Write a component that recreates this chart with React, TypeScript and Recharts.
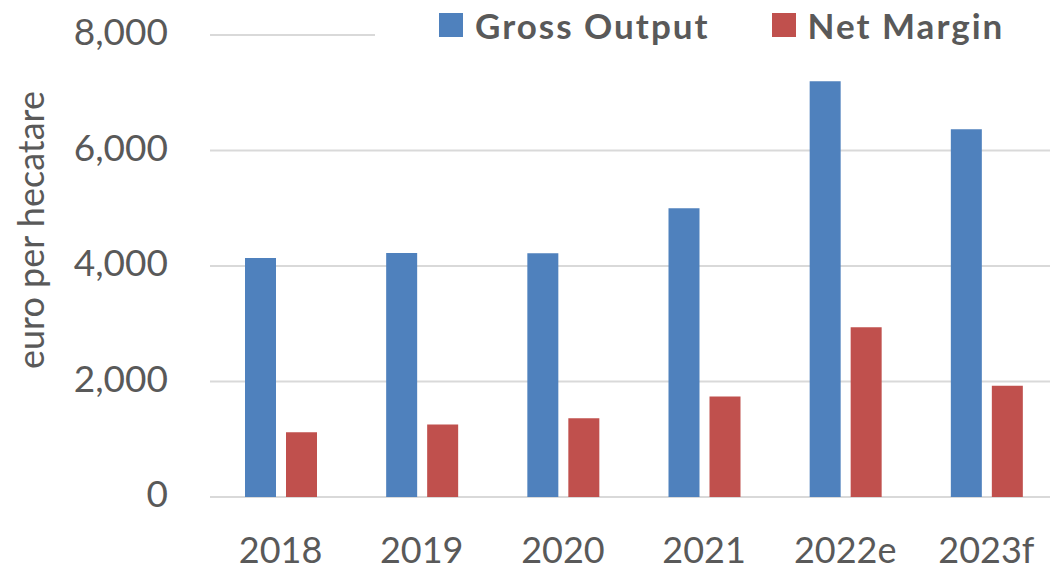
import { BarChart, Bar, XAxis, YAxis, CartesianGrid, Legend } from 'recharts'

const years = ['2018', '2019', '2020', '2021', '2022e', '2023f']
const grossOutput = [4140, 4225, 4220, 5000, 7200, 6370]
const netMargin = [1120, 1255, 1365, 1740, 2940, 1925]
const yTicks = [0, 2000, 4000, 6000, 8000]

const data = years.map((year, i) => ({
  year,
  gross: grossOutput[i],
  net: netMargin[i],
}))

const TEXT = '#595959'
const FONT = 'Lato, "Open Sans", sans-serif'

interface LegendItem {
  value: string
  color: string
}

function LegendContent({ payload }: { payload?: LegendItem[] }) {
  if (!payload) return null
  return (
    <div
      style={{
        display: 'flex',
        alignItems: 'center',
        height: '100%',
        paddingLeft: 64,
        paddingTop: 4,
        boxSizing: 'border-box',
        fontFamily: FONT,
      }}
    >
      {payload.map((p, i) => (
        <div key={p.value} style={{ display: 'flex', alignItems: 'center', marginLeft: i ? 62 : 0 }}>
          <span style={{ width: 24, height: 24, backgroundColor: p.color, marginRight: 12 }} />
          <span style={{ fontSize: 35, fontWeight: 700, color: TEXT, lineHeight: 1, letterSpacing: 2 }}>
            {p.value}
          </span>
        </div>
      ))}
    </div>
  )
}

export default function App() {
  return (
    <div
      style={{
        position: 'absolute',
        left: 0,
        top: 0,
        width: 1050,
        height: 569,
        overflow: 'hidden',
        backgroundColor: '#fff',
      }}
    >
      <BarChart
        width={1060}
        height={569}
        data={data}
        margin={{ top: 35, right: 3, left: 0, bottom: 0 }}
        barSize={31}
        barGap={10}
      >
        <CartesianGrid vertical={false} stroke="#d9d9d9" strokeWidth={2} />
        <XAxis
          dataKey="year"
          height={72}
          axisLine={false}
          tickLine={false}
          tickSize={0}
          tickMargin={40}
          tick={{ fill: TEXT, fontSize: 36, fontFamily: FONT }}
        />
        <YAxis
          width={210}
          domain={[0, 8000]}
          ticks={yTicks}
          axisLine={false}
          tickLine={false}
          tickSize={0}
          tickMargin={42}
          tickFormatter={(v: number) => v.toLocaleString('en-US')}
          tick={{ fill: TEXT, fontSize: 37, fontFamily: FONT, dy: -3 }}
          label={{
            content: () => (
              <text
                x={30}
                y={230}
                transform="rotate(-90 30 230)"
                textAnchor="middle"
                dominantBaseline="central"
                fill={TEXT}
                fontSize={36}
                fontFamily={FONT}
              >
                euro per hecatare
              </text>
            ),
          }}
        />
        <Legend
          layout="horizontal"
          verticalAlign="middle"
          align="center"
          content={<LegendContent />}
          wrapperStyle={{ top: 0, left: 375, width: 685, height: 46, backgroundColor: '#fff' }}
        />
        <Bar dataKey="gross" name="Gross Output" fill="#4F81BD" isAnimationActive={false} />
        <Bar dataKey="net" name="Net Margin" fill="#C0504D" isAnimationActive={false} />
      </BarChart>
    </div>
  )
}
